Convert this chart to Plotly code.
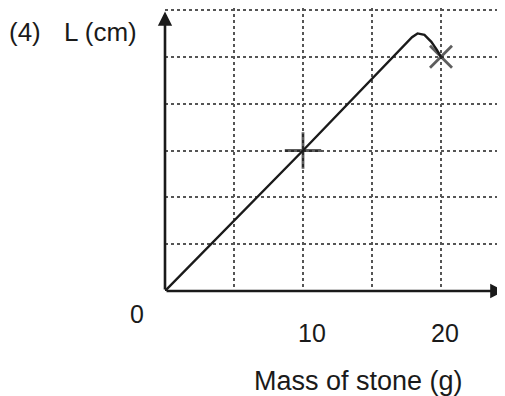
import plotly.graph_objects as go

# Data
mass = [0, 10, 17.9, 18.3, 18.8, 19.3, 19.7, 20.0]
length = [0, 3.0, 5.42, 5.5, 5.47, 5.32, 5.15, 5.0]

mark_mass = [10, 20]
mark_length = [3.0, 5.0]

x_grid = [5, 10, 15, 20]
y_grid = [1, 2, 3, 4, 5, 6]

x_tick_labels = ["0", "10", "20"]

FONT = "Arial, Liberation Sans, sans-serif"
INK = "#1a1a1a"

# page has an 8px body margin, so the figure is sized to fit the window
OFF = 8
W, H = 505 - OFF, 396 - OFF
L_M, R_M, T_M, B_M = 165 - OFF, 0, 0, H - (291 - OFF)
pw, ph = W - L_M - R_M, H - T_M - B_M


def px(xp):
    return (xp - OFF - L_M) / pw


def py(yp):
    return (H - B_M - (yp - OFF)) / ph


fig = go.Figure()
fig.add_trace(go.Scatter(x=mass, y=length, mode="lines",
                         line=dict(color=INK, width=2.4), hoverinfo="skip"))
fig.add_trace(go.Scatter(x=mark_mass, y=mark_length, mode="markers",
                         marker=dict(symbol=["cross-thin", "x-thin"], size=[26, 22],
                                     line=dict(color=INK, width=2.8)),
                         hoverinfo="skip"))

# axes with arrowheads
fig.add_annotation(x=0, y=5.97, ax=0, ay=0, xref="x", yref="y", axref="x", ayref="y",
                   text="", showarrow=True, arrowhead=2, arrowsize=1.1,
                   arrowwidth=2.6, arrowcolor=INK)
fig.add_annotation(x=24.6, y=0, ax=0, ay=0, xref="x", yref="y", axref="x", ayref="y",
                   text="", showarrow=True, arrowhead=2, arrowsize=1.1,
                   arrowwidth=2.6, arrowcolor=INK)

tick_pix = [(137, 314), (312, 333), (445, 333)]
for t, (xp, yp) in zip(x_tick_labels, tick_pix):
    fig.add_annotation(x=px(xp), y=py(yp), xref="paper", yref="paper", text=t,
                       showarrow=False, xanchor="center", yanchor="middle",
                       font=dict(family=FONT, size=25, color=INK))

texts = [
    ("(4)", 7, 32, "left", 26),
    ("L (cm)", 62, 32, "left", 26),
    ("Mass of stone (g)", 358, 381, "center", 27),
]
for t, xp, yp, anchor, fs in texts:
    fig.add_annotation(x=px(xp), y=py(yp), xref="paper", yref="paper", text=t,
                       showarrow=False, xanchor=anchor, yanchor="middle",
                       font=dict(family=FONT, size=fs, color=INK))

fig.update_layout(
    width=W, height=H,
    margin=dict(l=L_M, r=R_M, t=T_M, b=B_M),
    paper_bgcolor="white", plot_bgcolor="white",
    showlegend=False,
    xaxis=dict(range=[0, pw / 13.8], tickvals=x_grid, showticklabels=False, ticks="",
               showgrid=True, gridcolor="#555555", gridwidth=1.5, griddash="dot",
               zeroline=False, showline=False, fixedrange=True),
    yaxis=dict(range=[0, ph / 46.83], tickvals=y_grid, showticklabels=False, ticks="",
               showgrid=True, gridcolor="#555555", gridwidth=1.5, griddash="dot",
               zeroline=False, showline=False, fixedrange=True),
)

fig.write_html("out.html")
